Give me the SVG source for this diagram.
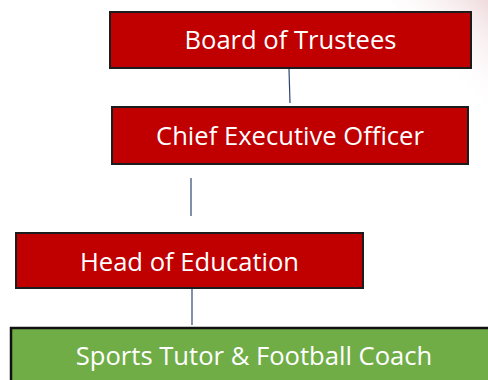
<svg xmlns="http://www.w3.org/2000/svg" width="488" height="380" viewBox="0 0 488 380">
  <defs>
    <linearGradient id="bgfade" x1="1" y1="0" x2="0.55" y2="0.6">
      <stop offset="0" stop-color="#efdadd"/>
      <stop offset="1" stop-color="#ffffff" stop-opacity="0"/>
    </linearGradient>
    <style>
      .red { fill: #c00000; stroke: #1c1c1c; stroke-width: 2; }
      .green { fill: #70ad47; stroke: #111111; stroke-width: 2.5; }
      .lbl { font-family: "Open Sans", "Noto Sans", "Liberation Sans", sans-serif; font-size: 25.6px; fill: #ffffff; text-anchor: middle; }
      .conn line { stroke: #2f4570; stroke-width: 1.2; }
    </style>
  </defs>
  <rect width="488" height="380" fill="#ffffff"/>
  <polygon points="390,0 488,0 488,130" fill="url(#bgfade)"/>
  <g id="connectors" class="conn">
    <line x1="289" y1="69" x2="290" y2="103"/>
    <line x1="191" y1="178" x2="191" y2="216"/>
    <line x1="192" y1="289" x2="192" y2="325"/>
  </g>
  <g id="board">
    <rect class="red" x="110" y="12" width="361" height="56"/>
    <text class="lbl" x="290.5" y="49">Board of Trustees</text>
  </g>
  <g id="ceo">
    <rect class="red" x="112" y="107" width="356" height="57"/>
    <text class="lbl" x="290" y="145">Chief Executive Officer</text>
  </g>
  <g id="head">
    <rect class="red" x="16" y="233" width="347" height="55"/>
    <text class="lbl" x="189.5" y="271">Head of Education</text>
  </g>
  <g id="tutor">
    <rect class="green" x="11" y="328" width="486" height="60"/>
    <text class="lbl" x="254" y="365">Sports Tutor &amp; Football Coach</text>
  </g>
</svg>
